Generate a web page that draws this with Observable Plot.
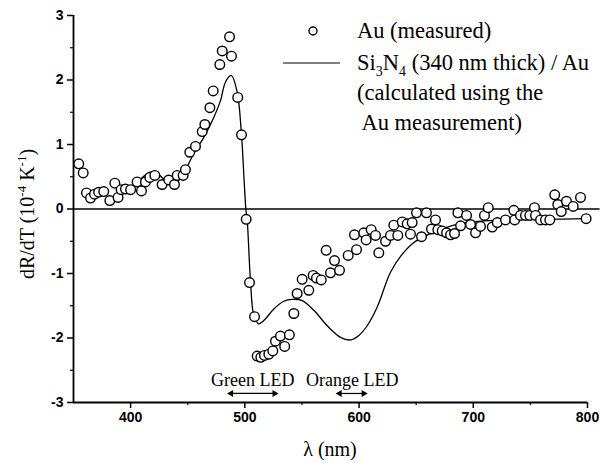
<!DOCTYPE html>
<html>
<head>
<meta charset="utf-8">
<script src="https://cdn.jsdelivr.net/npm/d3@7"></script>
<script src="https://cdn.jsdelivr.net/npm/@observablehq/plot@0.6"></script>
<style>
  html, body { margin: 0; padding: 0; background: white; }
  #chart { width: 601px; height: 463px; }
</style>
</head>
<body>
<div id="chart"></div>
<script>
// Measured Au dR/dT (1e-4 K^-1) vs wavelength (nm)
const wavelengthMeasured = [
  354.6, 358.5, 361.4, 364.9, 368.4, 372, 376.5, 381.8, 386.2, 389, 391.7, 395.5, 400,
  405.7, 409.5, 413, 416.8, 421.2, 427.6, 433.4, 438.4, 440.8, 446, 448, 451.8, 456.8,
  462.7, 465, 469.4, 472.3, 478.1, 480.2, 486.6, 488.3, 493.8, 497.1, 501.2, 504.1, 508.5,
  510.8, 514, 517.2, 521, 524.5, 526.8, 531.2, 534.9, 539, 542.9, 545.8, 550.2, 556, 559.8,
  562.7, 566.9, 571.2, 575, 578.5, 582.9, 590.5, 596, 597.8, 604.1, 606.2, 610.6, 614.4,
  617.3, 623.2, 627.5, 630.4, 633.9, 637.8, 642.1, 646.5, 645, 650.3, 654.7, 659, 663.4,
  666.9, 669, 672.8, 676.6, 680.1, 683.6, 686.5, 688.9, 694.1, 697.6, 702, 706.3, 709.8,
  713.1, 716.6, 721, 728.2, 735.5, 736.3, 741.3, 745.7, 749.5, 753.6, 754.5, 758.9, 763.2,
  767, 771.3, 774, 777, 781.6, 787.5, 793.9, 798.8
];
const dRdTMeasured = [
  0.70, 0.56, 0.25, 0.17, 0.23, 0.26, 0.27, 0.13, 0.40, 0.18, 0.30, 0.31, 0.30,
  0.42, 0.28, 0.42, 0.49, 0.52, 0.38, 0.45, 0.38, 0.52, 0.52, 0.61, 0.88, 0.97,
  1.20, 1.31, 1.57, 1.83, 2.24, 2.45, 2.67, 2.37, 1.73, 1.15, -0.16, -1.14, -1.67,
  -2.28, -2.30, -2.27, -2.25, -2.20, -2.05, -1.97, -2.13, -1.95, -1.62, -1.31, -1.09, -1.26, -1.03,
  -1.07, -1.10, -0.64, -0.99, -0.80, -0.95, -0.72, -0.40, -0.63, -0.37, -0.48, -0.32, -0.41,
  -0.68, -0.50, -0.41, -0.25, -0.41, -0.20, -0.23, -0.21, -0.39, -0.06, -0.43, -0.06, -0.31,
  -0.17, -0.32, -0.34, -0.37, -0.40, -0.38, -0.06, -0.26, -0.10, -0.24, -0.37, -0.27, -0.10,
  0.02, -0.28, -0.21, -0.17, -0.02, -0.17, -0.10, -0.10, -0.10, 0.02, -0.10, -0.17, -0.17,
  -0.17, 0.22, 0.07, -0.04, 0.12, 0.04, 0.18, -0.15
];

// Calculated Si3N4 (340 nm) / Au
const wavelengthCalc = [
  398, 405, 411, 417, 423, 428, 433, 440, 445.2, 449.5, 455.3, 464.1, 472.8, 478.7, 483.1,
  488.1, 493.3, 496.8, 499.7, 500.9, 502.1, 505, 507.9, 512.2, 516.6, 525.4, 534.1, 541.5,
  550.2, 560.4, 572.1, 583.8, 592.5, 599.8, 607.1, 615.9, 627.5, 637, 648, 660, 671.3,
  685.9, 706.3, 729.7, 758.9, 800
];
const dRdTCalc = [
  0.32, 0.40, 0.50, 0.57, 0.56, 0.48, 0.43, 0.43, 0.49, 0.65, 0.86, 1.11, 1.42, 1.68, 1.97,
  2.07, 1.81, 1.22, 0.34, 0.00, -0.18, -1.13, -1.65, -1.78, -1.73, -1.55, -1.43, -1.40,
  -1.42, -1.57, -1.81, -1.99, -2.03, -1.96, -1.81, -1.52, -0.98, -0.72, -0.52, -0.40, -0.32,
  -0.24, -0.19, -0.17, -0.16, -0.15
];

// Axis ticks
const xTicks = [400, 500, 600, 700, 800];
const xMinorTicks = [450, 550, 650, 750];
const yTicks = [-3, -2, -1, 0, 1, 2, 3];
const yMinorTicks = [-2.5, -1.5, -0.5, 0.5, 1.5, 2.5];

// LED annotations
const ledNames = ["Green LED", "Orange LED"];
const ledLabelX = [507, 594];
const ledStart = [488, 583];
const ledEnd = [526, 604];
const ledArrowY = -2.86;
const ledLabelY = -2.66;

// Text
const xLabel = "λ (nm)";
const legendMeasured = "Au (measured)";
const legendCalcLines = ["(calculated using the", " Au measurement)"];

const measured = wavelengthMeasured.map((x, i) => ({x, y: dRdTMeasured[i]}));
const calc = wavelengthCalc.map((x, i) => ({x, y: dRdTCalc[i]}));
const leds = ledNames.map((name, i) => ({name, lx: ledLabelX[i], x1: ledStart[i], x2: ledEnd[i]}));
const ledHeads = leds.flatMap(d => [{x: d.x1, rot: -90}, {x: d.x2, rot: 90}]);

const plot = Plot.plot({
  width: 601,
  height: 463,
  marginLeft: 73,
  marginRight: 14,
  marginTop: 15,
  marginBottom: 61,
  x: {domain: [350, 800]},
  y: {domain: [-3, 3]},
  style: {background: "white", color: "black", fontFamily: "'Liberation Sans', Arial, sans-serif", fontSize: "14px", fontWeight: "bold"},
  marks: [
    Plot.axisX({ticks: xMinorTicks, tickSize: 3, tickFormat: () => "", label: null, strokeWidth: 1.2}),
    Plot.axisX({ticks: xTicks, tickSize: 6, tickPadding: 4, tickFormat: d => String(d), label: null, strokeWidth: 1.5}),
    Plot.axisY({ticks: yMinorTicks, tickSize: 3, tickFormat: () => "", label: null, strokeWidth: 1.2}),
    Plot.axisY({ticks: yTicks, tickSize: 6, tickPadding: 4, tickFormat: d => String(d), label: null, strokeWidth: 1.5}),
    Plot.ruleX([350], {stroke: "black", strokeWidth: 1.8}),
    Plot.ruleY([-3], {stroke: "black", strokeWidth: 1.8}),
    Plot.ruleY([0], {x1: 350, x2: 811, stroke: "black", strokeWidth: 1.4, clip: false}),
    Plot.line(calc, {x: "x", y: "y", stroke: "black", strokeWidth: 1.3, curve: "catmull-rom"}),
    Plot.dot(measured, {x: "x", y: "y", r: 4.8, fill: "white", stroke: "black", strokeWidth: 1.4}),
    Plot.link(leds, {x1: "x1", x2: "x2", y1: ledArrowY, y2: ledArrowY, stroke: "black", strokeWidth: 1.2}),
    Plot.dot(ledHeads, {x: "x", y: ledArrowY, symbol: "triangle", rotate: "rot", r: 2.6, fill: "black", stroke: "none"}),
    Plot.text(leds, {x: "lx", y: ledLabelY, text: "name", fontFamily: "'Liberation Serif', 'Times New Roman', serif", fontSize: 18, fontWeight: "normal"})
  ]
});

document.getElementById("chart").appendChild(plot);

// Rich text (super/subscripts) and legend
const svg = d3.select(plot);
const serif = "'Liberation Serif', 'Times New Roman', serif";

// Y axis label
const yl = svg.append("text")
  .attr("transform", "translate(34,214) rotate(-90)")
  .attr("text-anchor", "middle")
  .attr("font-family", serif).attr("font-size", 20).attr("font-weight", "normal").attr("fill", "black");
yl.append("tspan").text("dR/dT (10");
yl.append("tspan").attr("dy", -8).attr("font-size", 13).text("-4");
yl.append("tspan").attr("dy", 8).text(" K");
yl.append("tspan").attr("dy", -8).attr("font-size", 13).text("-1");
yl.append("tspan").attr("dy", 8).text(")");

// X axis label
svg.append("text").attr("x", 330).attr("y", 456).attr("text-anchor", "middle")
  .attr("font-family", serif).attr("font-size", 20).attr("font-weight", "normal").attr("fill", "black")
  .text(xLabel);

// Legend
svg.append("circle").attr("cx", 313).attr("cy", 31).attr("r", 4).attr("fill", "white").attr("stroke", "black").attr("stroke-width", 1.4);
svg.append("line").attr("x1", 283).attr("x2", 340).attr("y1", 63).attr("y2", 63).attr("stroke", "black").attr("stroke-width", 1.2);
const lg = svg.append("g").attr("font-family", serif).attr("font-size", 22.5).attr("font-weight", "normal").attr("fill", "black").attr("text-anchor", "start");
lg.append("text").attr("x", 357).attr("y", 38).text(legendMeasured);
const l2 = lg.append("text").attr("x", 357).attr("y", 70);
l2.append("tspan").text("Si");
l2.append("tspan").attr("dy", 6).attr("font-size", 14).text("3");
l2.append("tspan").attr("dy", -6).text("N");
l2.append("tspan").attr("dy", 6).attr("font-size", 14).text("4");
l2.append("tspan").attr("dy", -6).text(" (340 nm thick) / Au");
lg.append("text").attr("x", 357).attr("y", 100).text(legendCalcLines[0]);
lg.append("text").attr("x", 357).attr("y", 130).attr("xml:space", "preserve").style("white-space", "pre").text(legendCalcLines[1]);
</script>
</body>
</html>
